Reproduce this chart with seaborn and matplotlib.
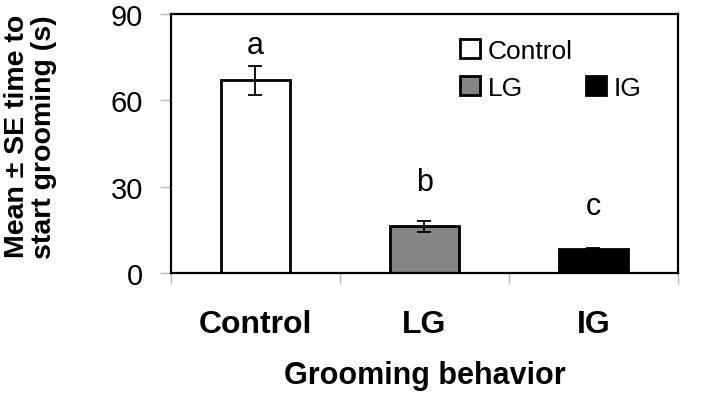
import matplotlib
matplotlib.use("Agg")
import matplotlib.pyplot as plt
import seaborn as sns
import pandas as pd
from matplotlib.patches import Patch

categories = ["Control", "LG", "IG"]
means = [67.0, 16.2, 8.2]
se = [5.0, 1.8, 0.5]
letters = ["a", "b", "c"]
letter_offsets = [2.0, 8.5, 9.5]
colors = ["#ffffff", "#858585", "#000000"]
yticks = [0, 30, 60, 90]

sns.set_theme(style="white")
plt.rcParams["font.family"] = ["Liberation Sans", "DejaVu Sans"]
plt.rcParams["text.color"] = "black"
plt.rcParams["axes.labelcolor"] = "black"
plt.rcParams["xtick.labelcolor"] = "black"
plt.rcParams["ytick.labelcolor"] = "black"

df = pd.DataFrame({"group": categories, "mean": means})

fig = plt.figure(figsize=(7.08, 4.10), dpi=100)
ax = fig.add_axes([0.2415, 0.3317, 0.7161, 0.6317])

sns.barplot(data=df, x="group", y="mean", hue="group", palette=colors,
            order=categories, hue_order=categories, width=0.41,
            edgecolor="black", linewidth=2.0, legend=False, ax=ax, errorbar=None)

ax.errorbar(range(len(categories)), means, yerr=se, fmt="none",
            ecolor="black", elinewidth=1.3, capsize=5, capthick=1.3, zorder=5)

for i, (m, s, l, off) in enumerate(zip(means, se, letters, letter_offsets)):
    ax.text(i, m + s + off, l, ha="center", va="bottom", fontsize=22, color="black")

ax.set_ylim(0, 90)
ax.set_xlim(-0.5, 2.5)
ax.set_yticks(yticks)
ax.set_yticklabels([str(t) for t in yticks], fontsize=21, color="black")
ax.set_xticks(range(len(categories)))
ax.set_xticklabels(categories, fontsize=23, fontweight="bold", color="black")
ax.set_xticks([-0.5, 0.5, 1.5, 2.5], minor=True)
ax.tick_params(axis="x", which="major", length=0, pad=26)
ax.tick_params(axis="x", which="minor", length=8, width=1, color="#bbbbbb", direction="out", bottom=True)
ax.tick_params(axis="y", which="major", length=8, width=1, color="#bbbbbb", direction="out", left=True, pad=12)

ax.set_xlabel("Grooming behavior", fontsize=22, fontweight="bold", labelpad=15, color="black")
ax.set_ylabel("Mean ± SE time to\nstart grooming (s)", fontsize=20.5, fontweight="bold",
              linespacing=1.05, color="black")
ax.yaxis.set_label_coords(-0.225, 0.53)

for sp in ax.spines.values():
    sp.set_visible(True)
    sp.set_color("black")
    sp.set_linewidth(1.6)

handles = [Patch(facecolor=colors[0], edgecolor="black", linewidth=2, label=categories[0]),
           Patch(facecolor=colors[1], edgecolor="black", linewidth=2, label=categories[1]),
           Patch(facecolor="none", edgecolor="none", label=""),
           Patch(facecolor=colors[2], edgecolor="black", linewidth=2, label=categories[2])]
ax.legend(handles=handles, ncol=2, frameon=False, fontsize=19,
          loc="upper left", bbox_to_anchor=(0.57, 0.905), borderpad=0, borderaxespad=0,
          handlelength=0.75, handleheight=0.75, handletextpad=0.3,
          columnspacing=0.5, labelspacing=0.5)

fig.savefig("out.png", dpi=100)
